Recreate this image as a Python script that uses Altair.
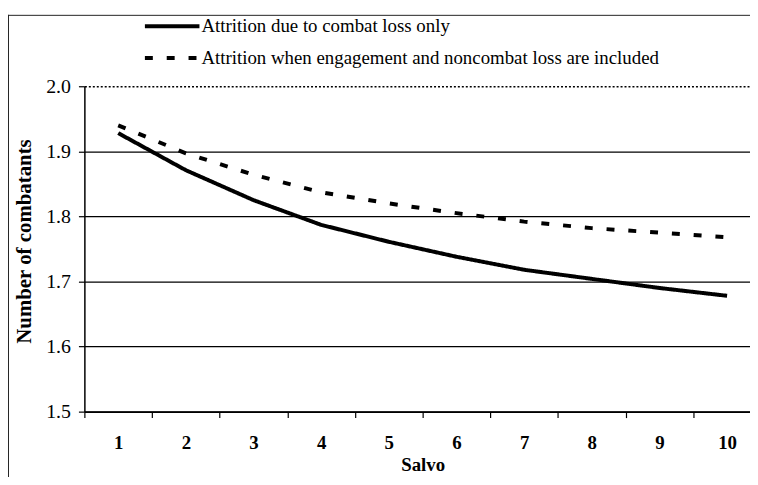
import altair as alt
import pandas as pd

salvo = [1, 2, 3, 4, 5, 6, 7, 8, 9, 10]
combat_only = [1.928, 1.871, 1.825, 1.787, 1.761, 1.738, 1.718, 1.704, 1.690, 1.678]
with_engagement = [1.940, 1.897, 1.864, 1.837, 1.820, 1.805, 1.792, 1.782, 1.775, 1.768]
series_names = [
    "Attrition due to combat loss only",
    "Attrition when engagement and noncombat loss are included",
]
y_ticks = [1.5, 1.6, 1.7, 1.8, 1.9, 2.0]

rows = []
for s, a, b in zip(salvo, combat_only, with_engagement):
    rows.append({"Salvo": s, "value": a, "series": series_names[0]})
    rows.append({"Salvo": s, "value": b, "series": series_names[1]})
df = pd.DataFrame(rows)

SERIF = "Liberation Serif"

x_enc = alt.X(
    "Salvo:O",
    bandPosition=0.5,
    scale=alt.Scale(type="band", range=[0, 682], paddingInner=0, paddingOuter=0),
    axis=alt.Axis(
        title="Salvo",
        tickBand="extent",
        labelAngle=0,
        labelFont=SERIF,
        labelFontSize=19,
        labelFontWeight="bold",
        labelColor="black",
        labelPadding=16,
        tickSize=6,
        tickColor="black",
        tickWidth=1.2,
        domainColor="black",
        domainWidth=2,
        grid=False,
        titleFont=SERIF,
        titleFontSize=19,
        titleFontWeight="bold",
        titleColor="black",
        titleX=341,
        titleY=53,
        titleBaseline="middle",
    ),
)

y_enc = alt.Y(
    "value:Q",
    scale=alt.Scale(domain=[1.5, 2.0], nice=False, zero=False),
    axis=alt.Axis(
        title="Number of combatants",
        values=y_ticks,
        format=".1f",
        labelFont=SERIF,
        labelFontSize=20,
        labelColor="black",
        labelPadding=8,
        tickSize=6,
        tickColor="black",
        tickWidth=1.2,
        domainColor="black",
        domainWidth=1.5,
        grid=True,
        gridColor="black",
        gridWidth=1.3,
        gridOpacity=1,
        gridDash=alt.condition("datum.value >= 1.99", alt.value([2, 2]), alt.value([])),
        titleFont=SERIF,
        titleFontSize=21,
        titleFontWeight="bold",
        titleColor="black",
        titleX=-60,
        titleY=156,
        titleAngle=270,
        titleAlign="center",
        titleBaseline="middle",
    ),
)

lines = alt.Chart(df).mark_line(color="black", strokeWidth=4).encode(
    x=x_enc,
    y=y_enc,
    strokeDash=alt.StrokeDash(
        "series:N",
        sort=series_names,
        scale=alt.Scale(domain=series_names, range=[[1, 0], [8, 14]]),
        legend=alt.Legend(
            orient="none",
            legendX=79,
            legendY=-70,
            title=None,
            direction="vertical",
            symbolType="M-4,0L4,0",
            symbolSize=189,
            symbolStrokeWidth=4,
            symbolStrokeColor="black",
            symbolFillColor="black",
            labelFont=SERIF,
            labelFontSize=19,
            labelColor="black",
            labelLimit=0,
            labelOffset=20,
            rowPadding=12,
        ),
    ),
)

frame_data = pd.DataFrame({"k": [0]})
frame_left = alt.Chart(frame_data).mark_rule(color="#222222", strokeWidth=1).encode(
    x=alt.value(-76.5), y=alt.value(-72), y2=alt.value(420)
)
frame_top = alt.Chart(frame_data).mark_rule(color="#222222", strokeWidth=1).encode(
    x=alt.value(-77), x2=alt.value(700), y=alt.value(-71.5)
)

chart = (
    alt.layer(frame_left, frame_top, lines)
    .properties(
        width=671,
        height=328,
        autosize=alt.AutoSizeParams(type="none"),
        padding={"left": 77, "top": 77, "right": 0, "bottom": 64},
        background="white",
    )
    .configure_view(stroke=None)
)

chart.save("out.html", embed_options={"renderer": "svg", "actions": False})
